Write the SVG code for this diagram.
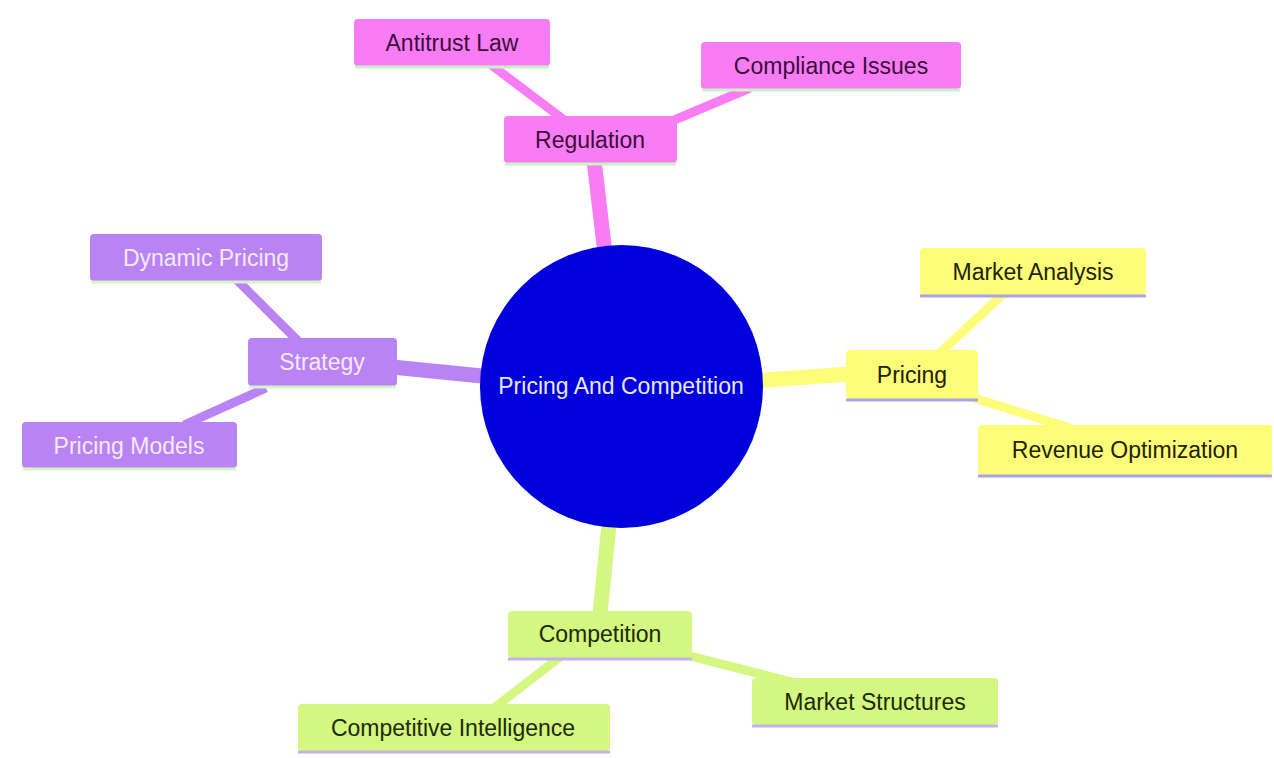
<svg xmlns="http://www.w3.org/2000/svg" width="1274" height="758" viewBox="0 0 1274 758">
<style>
text{font-family:"Liberation Sans",Arial,sans-serif;font-size:23px;text-anchor:middle}
.pk{fill:#f87df5}.pu{fill:#b983f4}.ye{fill:#fdfd7a}.gr{fill:#d3f780}
.tpk{fill:#3a0d3a}.tpu{fill:#f4eaff}.tye{fill:#222200}.tgr{fill:#1c2a05}
.lpk{stroke:#c9f3c4;stroke-width:3}.lpu{stroke:#d6f3c8;stroke-width:3}.lye{stroke:#a7a3e6;stroke-width:3}.lgr{stroke:#c3b3ea;stroke-width:3}
.e{fill:none;stroke-linecap:butt}
.e0{stroke-width:15}.e1{stroke-width:9}
.spk{stroke:#f87df5}.spu{stroke:#b983f4}.sye{stroke:#fdfd7a}.sgr{stroke:#d3f780}
</style>
<rect width="1274" height="758" fill="#ffffff"/>
<g id="connectors">
<line class="e e0 spk" x1="594" y1="160" x2="606" y2="262"/>
<line class="e e1 spk" x1="490" y1="64" x2="563" y2="119"/>
<line class="e e1 spk" x1="750" y1="88" x2="672" y2="121"/>
<line class="e e0 spu" x1="392" y1="367" x2="492" y2="377"/>
<line class="e e1 spu" x1="236" y1="279" x2="298" y2="341"/>
<line class="e e1 spu" x1="266" y1="388" x2="184" y2="425"/>
<line class="e e0 sye" x1="750" y1="381" x2="850" y2="374"/>
<line class="e e1 sye" x1="1003" y1="294" x2="940" y2="353"/>
<line class="e e1 sye" x1="974" y1="398" x2="1070" y2="428"/>
<line class="e e0 sgr" x1="610" y1="515" x2="600" y2="614"/>
<line class="e e1 sgr" x1="560" y1="657" x2="494" y2="708"/>
<line class="e e1 sgr" x1="686" y1="655" x2="792" y2="682"/>
</g>
<g id="root">
<circle cx="621.5" cy="386.5" r="141.5" fill="#0000dd"/>
<text x="621" y="394" fill="#e8e8fa">Pricing And Competition</text>
</g>
<g id="regulation">
<rect class="pk" x="504" y="116" width="173" height="47" rx="4"/>
<line class="lpk" x1="505" y1="164" x2="676" y2="164"/>
<text class="tpk" x="590" y="148">Regulation</text>
</g>
<g id="antitrust-law">
<rect class="pk" x="354" y="19" width="196" height="47" rx="4"/>
<line class="lpk" x1="355" y1="67" x2="549" y2="67"/>
<text class="tpk" x="452" y="51">Antitrust Law</text>
</g>
<g id="compliance-issues">
<rect class="pk" x="701" y="42" width="260" height="47" rx="4"/>
<line class="lpk" x1="702" y1="90" x2="960" y2="90"/>
<text class="tpk" x="831" y="74">Compliance Issues</text>
</g>
<g id="strategy">
<rect class="pu" x="248" y="338" width="149" height="48" rx="4"/>
<line class="lpu" x1="249" y1="387" x2="396" y2="387"/>
<text class="tpu" x="322" y="370">Strategy</text>
</g>
<g id="dynamic-pricing">
<rect class="pu" x="90" y="234" width="232" height="47" rx="4"/>
<line class="lpu" x1="91" y1="282" x2="321" y2="282"/>
<text class="tpu" x="206" y="266">Dynamic Pricing</text>
</g>
<g id="pricing-models">
<rect class="pu" x="22" y="422" width="215" height="46" rx="4"/>
<line class="lpu" x1="23" y1="469" x2="236" y2="469"/>
<text class="tpu" x="129" y="454">Pricing Models</text>
</g>
<g id="pricing">
<rect class="ye" x="846" y="350" width="132" height="49" rx="4"/>
<line class="lye" x1="846" y1="400" x2="978" y2="400"/>
<text class="tye" x="912" y="383">Pricing</text>
</g>
<g id="market-analysis">
<rect class="ye" x="920" y="248" width="226" height="47" rx="4"/>
<line class="lye" x1="920" y1="296" x2="1146" y2="296"/>
<text class="tye" x="1033" y="280">Market Analysis</text>
</g>
<g id="revenue-optimization">
<rect class="ye" x="978" y="425" width="294" height="50" rx="4"/>
<line class="lye" x1="978" y1="476" x2="1272" y2="476"/>
<text class="tye" x="1125" y="458">Revenue Optimization</text>
</g>
<g id="competition">
<rect class="gr" x="508" y="611" width="184" height="47" rx="4"/>
<line class="lgr" x1="508" y1="659" x2="692" y2="659"/>
<text class="tgr" x="600" y="642">Competition</text>
</g>
<g id="market-structures">
<rect class="gr" x="752" y="678" width="246" height="47" rx="4"/>
<line class="lgr" x1="752" y1="726" x2="998" y2="726"/>
<text class="tgr" x="875" y="710">Market Structures</text>
</g>
<g id="competitive-intelligence">
<rect class="gr" x="298" y="704" width="312" height="47" rx="4"/>
<line class="lgr" x1="298" y1="752" x2="610" y2="752"/>
<text class="tgr" x="453" y="736">Competitive Intelligence</text>
</g>
</svg>
